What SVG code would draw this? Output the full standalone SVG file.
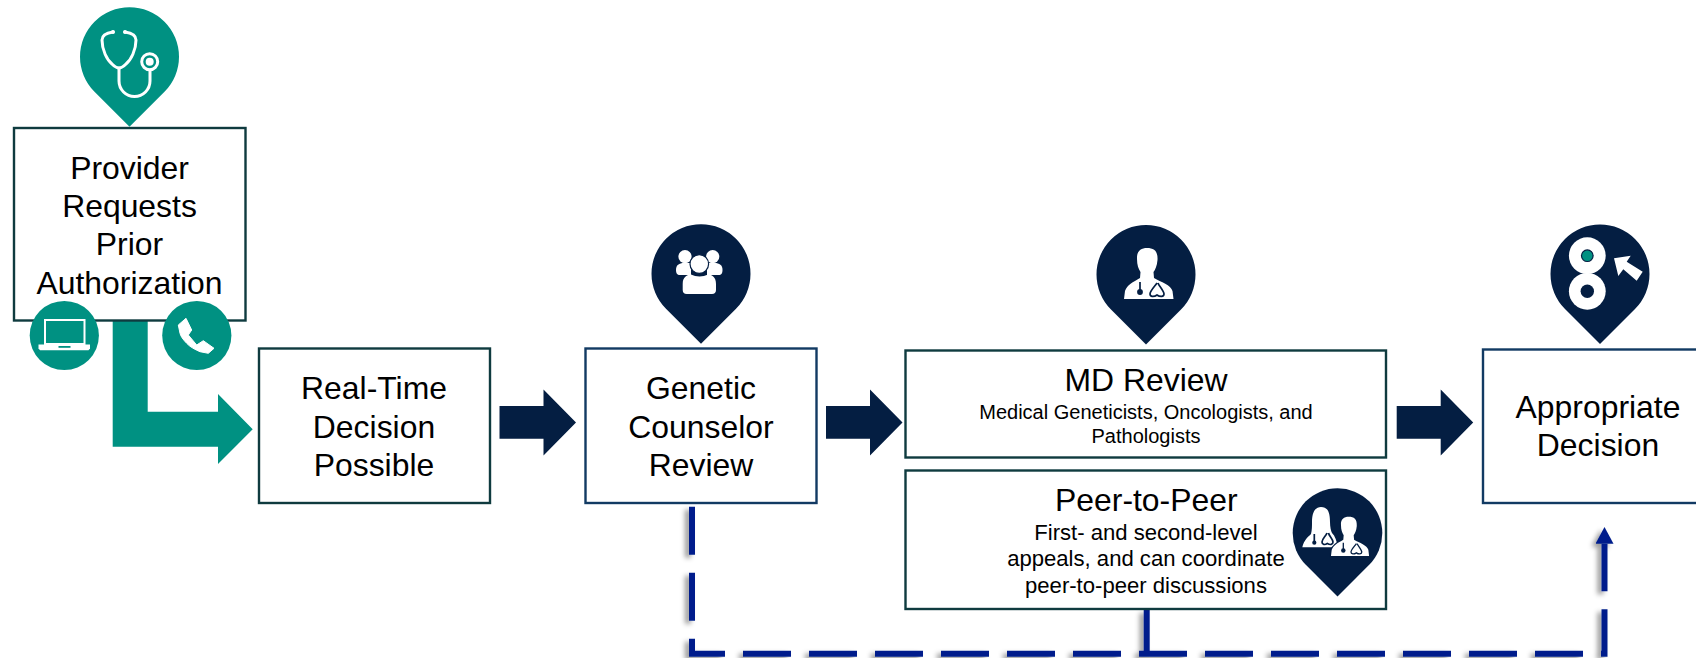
<svg xmlns="http://www.w3.org/2000/svg" xmlns:xlink="http://www.w3.org/1999/xlink" width="1696" height="658" viewBox="0 0 1696 658">
  <style>
    text { font-family: "Liberation Sans", Arial, sans-serif; fill: #000; text-anchor: middle; }
    .t { font-size: 31.9px; }
    .s1 { font-size: 20px; }
    .s2 { font-size: 22.1px; }
    .boxG { fill: #fff; stroke: #0f3b3f; stroke-width: 2.4; }
    .boxB { fill: #fff; stroke: #123a63; stroke-width: 2.4; }
    .navy { fill: #041e42; }
    .teal { fill: #009182; }
    .wh { fill: #fff; }
    .dash { fill: none; stroke: #001f8c; stroke-width: 6; }
    .steth { fill: none; stroke: #041e42; stroke-width: 1.7; }
  </style>
  <defs>
    <path id="pin" d="M0 70 L-35 35 A49.5 49.5 0 1 1 35 35 Z"/>
    <path id="arrowNavy" d="M0 -16.3 H44 V-33 L76.5 0 L44 33 V16.3 H0 Z"/>
    <path id="docBody" d="M1137 259 C1136.5 251 1141 248 1147 248 C1154 248 1158 251 1157.5 260 C1157 266 1155 270 1153.5 272 L1154 278 C1161 282 1171 285 1172.5 291 L1173.5 299 H1124 L1125 291 C1127 285 1133 282 1140 278 L1140.5 272 C1138.5 269 1137 265 1137 259 Z"/>
    <g id="doctor">
      <use href="#docBody" class="wh"/>
      <path class="steth" d="M1140 282 V290 M1157 283 C1155 286 1150 291 1150 294 C1150 297 1154 297 1157 295 C1160 297 1164 297 1164 294 C1164 291 1159 286 1158 283"/>
      <circle class="navy" cx="1140" cy="292" r="2.9"/>
    </g>
    <marker id="head" markerUnits="strokeWidth" markerWidth="3" markerHeight="3" refX="0" refY="1.5" orient="auto">
      <path d="M0 0 L2.8 1.5 L0 3 Z" fill="#001f8c"/>
    </marker>
    <filter id="shadow" x="-20%" y="-20%" width="140%" height="140%" filterUnits="userSpaceOnUse" primitiveUnits="userSpaceOnUse">
      <feDropShadow dx="-4" dy="3" stdDeviation="2.5" flood-color="#000" flood-opacity="0.4"/>
    </filter>
  </defs>

  <g id="connectors">
    <path class="teal" d="M112.7 320 H147.7 V411.7 H218 V394 L252.7 429.3 L218 464 V446.7 H112.7 Z"/>
    <use href="#arrowNavy" class="navy" x="499.5" y="422.4"/>
    <use href="#arrowNavy" class="navy" x="826" y="422.4"/>
    <use href="#arrowNavy" class="navy" x="1396.7" y="422.4"/>
    <g filter="url(#shadow)">
      <path class="dash" d="M1146.7 610 V653.7"/>
      <path class="dash" stroke-dasharray="48 18" marker-end="url(#head)" d="M692 506.7 V653.7 H1604.5 V543.7"/>
    </g>
  </g>

  <g id="node-provider">
    <rect class="boxG" x="14" y="128" width="231.5" height="192.5"/>
    <text class="t" x="129.5" y="178.6">Provider</text>
    <text class="t" x="129.5" y="216.9">Requests</text>
    <text class="t" x="129.5" y="255.2">Prior</text>
    <text class="t" x="129.5" y="293.5">Authorization</text>
    <use href="#pin" class="teal" x="129.5" y="56.8"/>
    <g fill="none" stroke="#fff" stroke-width="3" stroke-linecap="round">
      <path d="M113 32 C106 33 102 35 102 40 C102 50 107 60 112 64 C115 67 118 68 119 68 C120 68 123 67 126 64 C131 60 136 50 136 40 C136 35 132 33 125 32"/>
      <path d="M119 68 V81 A15.5 15.5 0 0 0 150 81 V70"/>
      <circle cx="149.7" cy="61.7" r="8"/>
    </g>
    <circle class="wh" cx="149.7" cy="61.7" r="4"/>
    <circle class="wh" cx="113" cy="32" r="2"/>
    <circle class="wh" cx="125" cy="32" r="2"/>
    <circle class="teal" cx="64.3" cy="335.5" r="34.6"/>
    <circle class="teal" cx="196.8" cy="335.5" r="34.6"/>
    <rect x="45" y="320" width="39.5" height="24" fill="none" stroke="#fff" stroke-width="2"/>
    <path class="wh" d="M38.5 344.5 H90 V348.5 L88.5 350.3 H40 L38.5 348.5 Z"/>
    <rect class="teal" x="58.5" y="346" width="12" height="1.8"/>
    <path class="wh" d="M178.3 325 L186 318.3 L191.7 330 L188.3 335 L196.7 345 L203.3 340.7 L214 348.3 L208.3 353.3 L200 351.7 C195 349.5 190 347 186.7 343.3 C183 339.5 180.5 336 180 333.3 Z" stroke="#fff" stroke-width="1" stroke-linejoin="round"/>
  </g>

  <g id="node-realtime">
    <rect class="boxG" x="259" y="348.5" width="231" height="154.5"/>
    <text class="t" x="374" y="399.2">Real-Time</text>
    <text class="t" x="374" y="437.6">Decision</text>
    <text class="t" x="374" y="476">Possible</text>
  </g>

  <g id="node-genetic">
    <rect class="boxB" x="585.5" y="348.5" width="231" height="154.5"/>
    <text class="t" x="701" y="399.2">Genetic</text>
    <text class="t" x="701" y="437.6">Counselor</text>
    <text class="t" x="701" y="476">Review</text>
    <use href="#pin" class="navy" x="701" y="273.8"/>
    <circle class="wh" cx="685" cy="256.7" r="6.6"/>
    <circle class="wh" cx="712.7" cy="256.7" r="6.6"/>
    <path class="wh" d="M676 270 C676 265 679 263 684 263 H691 V275 H680 C677 275 676 273 676 270 Z"/>
    <path class="wh" d="M722.5 270 C722.5 265 719.5 263 714.5 263 H707 V275 H718.5 C721.5 275 722.5 273 722.5 270 Z"/>
    <circle class="wh" cx="699.3" cy="264" r="9.3" stroke="#041e42" stroke-width="1.2"/>
    <path class="wh" d="M682.7 290 V284 C682.7 277 687 274.5 691 274.5 C696 277 703 277 708 274.5 C712 274.5 716 277 716 284 V290 C716 292.5 714.5 294 712 294 H686.7 C684.2 294 682.7 292.5 682.7 290 Z"/>
  </g>

  <g id="node-md">
    <rect class="boxG" x="905.5" y="350.5" width="480.5" height="107"/>
    <text class="t" x="1146" y="391">MD Review</text>
    <text class="s1" x="1146" y="418.5">Medical Geneticists, Oncologists, and</text>
    <text class="s1" x="1146" y="442.5">Pathologists</text>
    <use href="#pin" class="navy" x="1146" y="274.5"/>
    <use href="#doctor"/>
  </g>

  <g id="node-peer">
    <rect class="boxG" x="905.5" y="470.5" width="480.5" height="138.5"/>
    <text class="t" x="1146.3" y="511">Peer-to-Peer</text>
    <text class="s2" x="1146" y="540.2">First- and second-level</text>
    <text class="s2" x="1146" y="566.4">appeals, and can coordinate</text>
    <text class="s2" x="1146" y="592.6">peer-to-peer discussions</text>
    <path class="navy" d="M1337.5 596.4 L1305.8 564.7 A44.8 44.8 0 1 1 1369.2 564.7 Z"/>
    <path class="wh" d="M1312 522 C1312 511 1316 507 1321 507 C1327 507 1330 511 1330 522 C1330 527 1331 531 1332 533 C1335 536 1337 541 1337.7 547.3 H1302.3 C1304 540 1308 537 1311 534 C1312 530 1312 526 1312 522 Z"/>
    <path class="steth" d="M1314.3 534 V541 M1327 533 C1326 536 1322 539 1322 542 C1322 545 1325 545 1327.3 543.5 C1330 545 1333 545 1333 542 C1333 539 1329 536 1328.5 533"/>
    <circle class="navy" cx="1314.3" cy="542.7" r="2.1"/>
    <g transform="translate(465.5 325.7) scale(0.77)">
      <use href="#docBody" fill="#041e42" stroke="#041e42" stroke-width="3.5"/>
      <use href="#doctor"/>
    </g>
  </g>

  <g id="node-decision">
    <rect class="boxB" x="1483" y="349.5" width="300" height="153.5"/>
    <text class="t" x="1598" y="418.2">Appropriate</text>
    <text class="t" x="1598" y="456.2">Decision</text>
    <use href="#pin" class="navy" x="1600" y="274"/>
    <circle class="wh" cx="1587.3" cy="291.3" r="18.4"/>
    <circle class="navy" cx="1587.3" cy="291.3" r="6.7"/>
    <circle class="wh" cx="1587.3" cy="255.7" r="18.4"/>
    <circle class="teal" cx="1587.3" cy="255.7" r="5.8" stroke="#041e42" stroke-width="1.2"/>
    <path class="wh" d="M1614 258.3 L1630.7 255.7 L1626.7 261.7 L1642.7 271.7 L1636.7 280.7 L1623.3 269.3 L1618.3 276 Z"/>
  </g>
</svg>
